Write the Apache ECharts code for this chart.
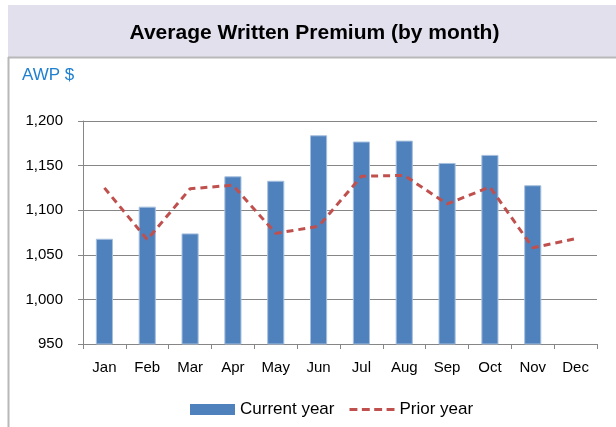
<!DOCTYPE html>
<html><head><meta charset="utf-8">
<script src="https://cdn.jsdelivr.net/npm/echarts@6/dist/echarts.min.js"></script>
<style>html,body{margin:0;padding:0;background:#fff}#c{width:616px;height:427px}</style>
</head><body><div id="c"></div>
<script>
const months = ['Jan','Feb','Mar','Apr','May','Jun','Jul','Aug','Sep','Oct','Nov','Dec'];
const currentYear = [1068, 1104, 1074, 1138, 1133, 1184, 1177, 1178, 1153, 1162, 1128, null];
const priorYear = [1125, 1067, 1124, 1128, 1074, 1082, 1138, 1139, 1107, 1126, 1058, 1068];
const yTicks = {min: 950, max: 1200, interval: 50};

const chart = echarts.init(document.getElementById('c'));
const font = '"Liberation Sans", Arial, sans-serif';
const dashIcon = 'path://M0,0h8v3h-8z M12.5,0h8v3h-8z M25,0h8v3h-8z M37.5,0h8v3h-8z';
chart.setOption({
  animation: false,
  graphic: [
    {type:'rect', shape:{x:8, y:5, width:608, height:52}, style:{fill:'#e3e0ee'}, z:-1},
    {type:'line', shape:{x1:8, y1:57.5, x2:616, y2:57.5}, style:{stroke:'#b8b8b8', lineWidth:2}},
    {type:'line', shape:{x1:8.5, y1:57, x2:8.5, y2:427}, style:{stroke:'#b8b8b8', lineWidth:2}},
    {type:'text', x:314.5, y:33, style:{text:'Average Written Premium (by month)', font:'bold 21px ' + font, fill:'#000', align:'center', verticalAlign:'middle'}},
    {type:'text', x:22, y:75, style:{text:'AWP $', font:'17px ' + font, fill:'#1f80d0', verticalAlign:'middle'}}
  ],
  grid: {left:83, right:19, top:121, bottom:83},
  legend: {
    top: 401, left: 190, padding: 0,
    itemWidth: 45, itemHeight: 11, itemGap: 15,
    textStyle: {fontSize: 17, fontFamily: font, color:'#000'},
    data: [
      {name:'Current year', icon:'rect', itemStyle:{color:'#4f81bd', borderWidth:0}},
      {name:'Prior year', icon: dashIcon, itemStyle:{color:'#c0504d', borderWidth:0}}
    ]
  },
  xAxis: {
    type:'category', data: months, boundaryGap: true,
    axisLine: {lineStyle:{color:'#868686', width:1}},
    axisTick: {show:true, length:5, lineStyle:{color:'#868686'}},
    axisLabel: {fontSize:15, fontFamily: font, color:'#000', margin:16}
  },
  yAxis: {
    type:'value', min: yTicks.min, max: yTicks.max, interval: yTicks.interval,
    axisLine: {show:true, lineStyle:{color:'#868686'}},
    axisTick: {show:true, length:5, lineStyle:{color:'#868686'}},
    splitLine: {lineStyle:{color:'#868686', width:1}},
    axisLabel: {fontSize:15, fontFamily: font, color:'#000', margin:20,
      formatter: v => v.toLocaleString('en-US')}
  },
  series: [
    {name:'Current year', type:'bar', data: currentYear, barWidth:'40%',
     itemStyle:{color:'#4f81bd', borderColor:'#a7c0de', borderWidth:1}},
    {name:'Prior year', type:'line', data: priorYear, symbol:'none',
     lineStyle:{color:'#c0504d', width:3, type:[7,5]},
     itemStyle:{color:'#c0504d'}}
  ]
});
</script></body></html>
